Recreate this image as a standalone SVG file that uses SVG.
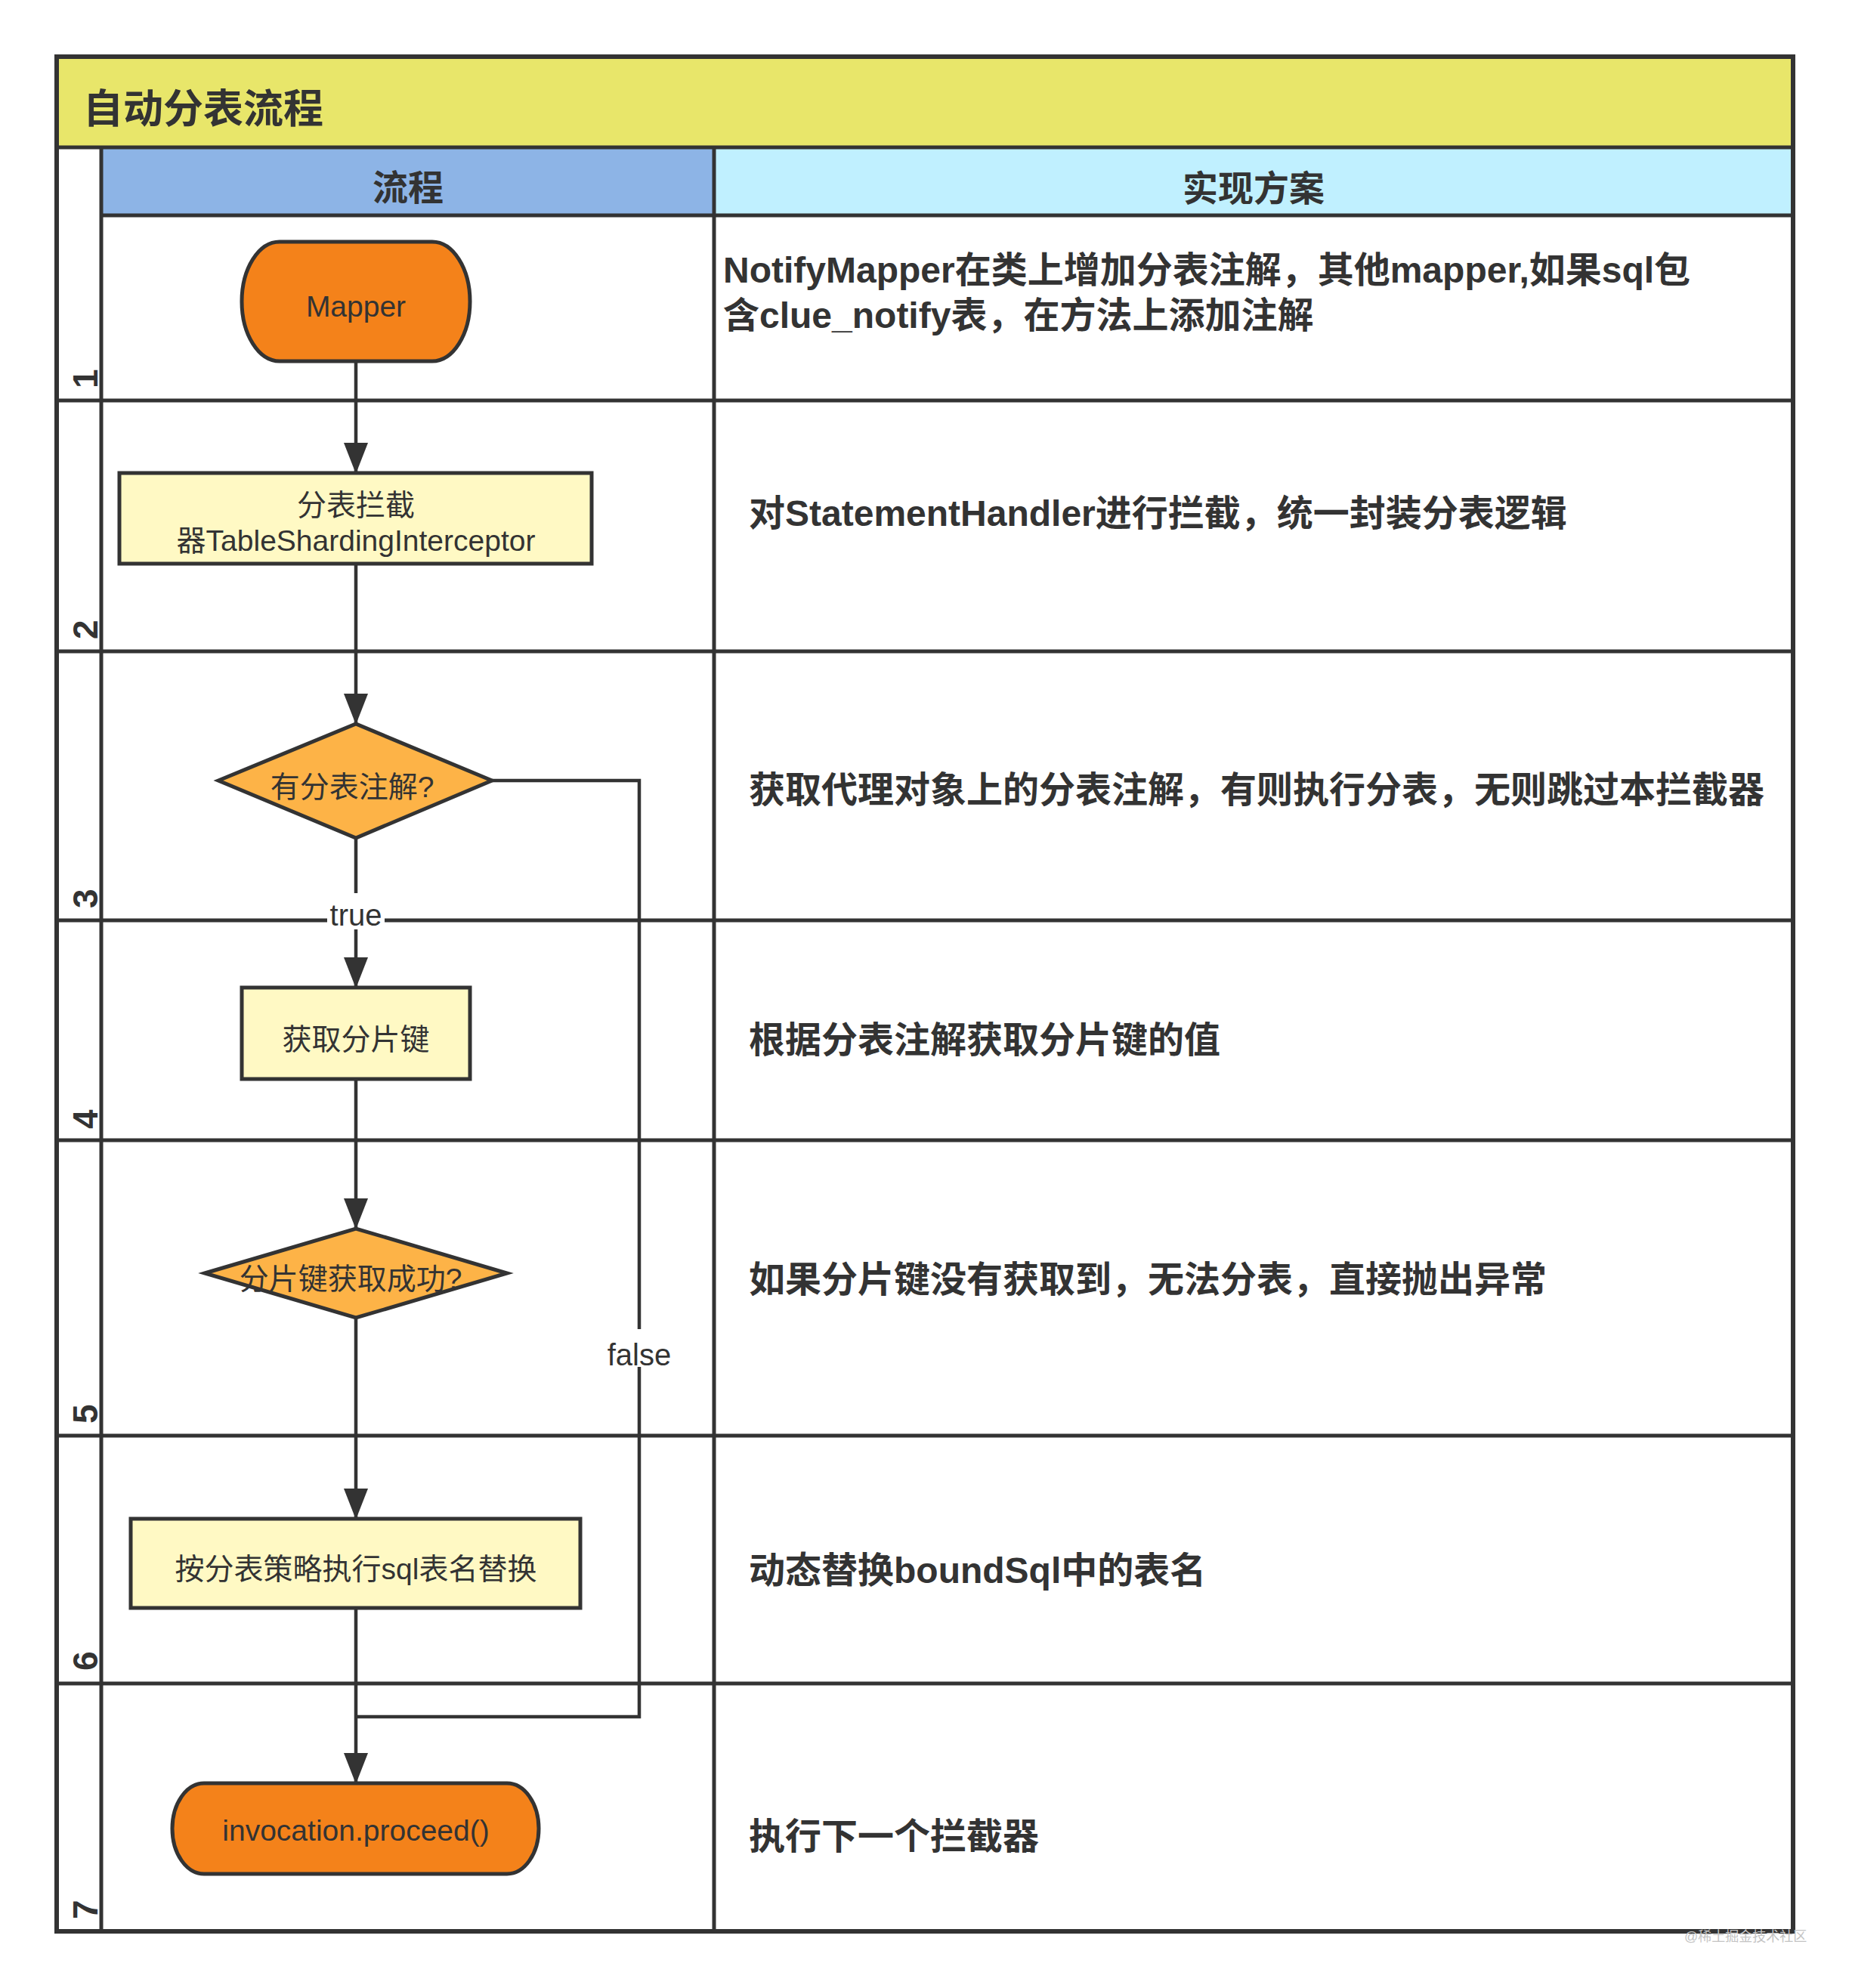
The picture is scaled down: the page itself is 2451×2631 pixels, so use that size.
<svg xmlns="http://www.w3.org/2000/svg" width="2451" height="2631" viewBox="0 0 2451 2631">
<defs>
<style>
.grid{stroke:#333333;stroke-width:5;fill:none}
.outer{stroke:#333333;stroke-width:6;fill:none}
.node{stroke:#333333;stroke-width:5}
.term{fill:#F4821A}
.proc{fill:#FFF9C4}
.dec{fill:#FDB347}
.ntext{font-family:"Liberation Sans","Noto Sans CJK SC",sans-serif;font-size:39px;fill:#333333;text-anchor:middle}
.desc{font-family:"Liberation Sans","Noto Sans CJK SC",sans-serif;font-size:48px;font-weight:bold;fill:#333333}
.hdr{font-family:"Liberation Sans","Noto Sans CJK SC",sans-serif;font-size:47px;font-weight:bold;fill:#333333;text-anchor:middle}
.lane{font-family:"Liberation Sans","Noto Sans CJK SC",sans-serif;font-size:46px;font-weight:bold;fill:#333333}
.elabel{font-family:"Liberation Sans","Noto Sans CJK SC",sans-serif;font-size:40px;fill:#333333;text-anchor:middle}
.conn{stroke:#333333;stroke-width:4.5;fill:none}
</style>
<marker id="arrow" markerUnits="userSpaceOnUse" markerWidth="42" markerHeight="32" refX="41" refY="16" orient="auto">
<path d="M0,0 L41,16 L0,32 Z" fill="#333333"/>
</marker>
</defs>
<rect x="0" y="0" width="2451" height="2631" fill="#FFFFFF"/>

<g id="table">
<rect x="75" y="75" width="2298" height="120" fill="#E8E66A"/>
<rect x="134" y="195" width="811" height="90" fill="#8DB4E6"/>
<rect x="945" y="195" width="1428" height="90" fill="#C0F0FF"/>
<line class="grid" x1="75" y1="195" x2="2373" y2="195"/>
<line class="grid" x1="134" y1="285" x2="2373" y2="285"/>
<line class="grid" x1="75" y1="530" x2="2373" y2="530"/>
<line class="grid" x1="75" y1="862" x2="2373" y2="862"/>
<line class="grid" x1="75" y1="1218" x2="2373" y2="1218"/>
<line class="grid" x1="75" y1="1509" x2="2373" y2="1509"/>
<line class="grid" x1="75" y1="1900" x2="2373" y2="1900"/>
<line class="grid" x1="75" y1="2228" x2="2373" y2="2228"/>
<line class="grid" x1="134" y1="195" x2="134" y2="2556"/>
<line class="grid" x1="945" y1="195" x2="945" y2="2556"/>
<rect class="outer" x="75" y="75" width="2298" height="2481"/>
<text x="110" y="163" font-family="Liberation Sans, Noto Sans CJK SC, sans-serif" font-size="53" font-weight="bold" fill="#333333">自动分表流程</text>
<text class="hdr" x="540" y="265">流程</text>
<text class="hdr" x="1659" y="266">实现方案</text>
<text class="lane" transform="translate(129,514) rotate(-90)">1</text>
<text class="lane" transform="translate(129,846) rotate(-90)">2</text>
<text class="lane" transform="translate(129,1202) rotate(-90)">3</text>
<text class="lane" transform="translate(129,1494) rotate(-90)">4</text>
<text class="lane" transform="translate(129,1884) rotate(-90)">5</text>
<text class="lane" transform="translate(129,2211) rotate(-90)">6</text>
<text class="lane" transform="translate(129,2540) rotate(-90)">7</text>
</g>

<g id="descriptions">
<text class="desc" x="957" y="374">NotifyMapper在类上增加分表注解，其他mapper,如果sql包</text>
<text class="desc" x="957" y="434">含clue_notify表，在方法上添加注解</text>
<text class="desc" x="991" y="696">对StatementHandler进行拦截，统一封装分表逻辑</text>
<text class="desc" x="991" y="1062">获取代理对象上的分表注解，有则执行分表，无则跳过本拦截器</text>
<text class="desc" x="991" y="1393">根据分表注解获取分片键的值</text>
<text class="desc" x="991" y="1710">如果分片键没有获取到，无法分表，直接抛出异常</text>
<text class="desc" x="991" y="2095">动态替换boundSql中的表名</text>
<text class="desc" x="991" y="2447">执行下一个拦截器</text>
</g>

<g id="connectors">
<line class="conn" x1="471" y1="478" x2="471" y2="627" marker-end="url(#arrow)"/>
<line class="conn" x1="471" y1="746" x2="471" y2="959" marker-end="url(#arrow)"/>
<line class="conn" x1="471" y1="1109" x2="471" y2="1308" marker-end="url(#arrow)"/>
<line class="conn" x1="471" y1="1428" x2="471" y2="1627" marker-end="url(#arrow)"/>
<line class="conn" x1="471" y1="1744" x2="471" y2="2011" marker-end="url(#arrow)"/>
<line class="conn" x1="471" y1="2128" x2="471" y2="2361" marker-end="url(#arrow)"/>
<polyline class="conn" points="651,1033 846,1033 846,2272 471,2272"/>
<g id="label-true">
<rect x="433" y="1182" width="76" height="48" fill="#FFFFFF"/>
<text class="elabel" x="471" y="1225">true</text>
</g>
<g id="label-false">
<rect x="801" y="1759" width="90" height="50" fill="#FFFFFF"/>
<text class="elabel" x="846" y="1807">false</text>
</g>
</g>

<g id="node-mapper">
<path class="node term" d="M370,320 H572 A50,79 0 0 1 572,478 H370 A50,79 0 0 1 370,320 Z"/>
<text class="ntext" x="471" y="419">Mapper</text>
</g>
<g id="node-interceptor">
<rect class="node proc" x="158" y="626" width="625" height="120"/>
<text class="ntext" x="471" y="682">分表拦截</text>
<text class="ntext" x="471" y="729">器TableShardingInterceptor</text>
</g>
<g id="node-has-annotation">
<polygon class="node dec" points="289,1033 471,958 651,1033 471,1109"/>
<text class="ntext" x="466" y="1055">有分表注解?</text>
</g>
<g id="node-get-key">
<rect class="node proc" x="320" y="1307" width="302" height="121"/>
<text class="ntext" x="471" y="1389">获取分片键</text>
</g>
<g id="node-key-success">
<polygon class="node dec" points="271,1685 471,1626 671,1685 471,1744"/>
<text class="ntext" x="464" y="1706">分片键获取成功?</text>
</g>
<g id="node-replace">
<rect class="node proc" x="173" y="2010" width="595" height="118"/>
<text class="ntext" x="471" y="2090">按分表策略执行sql表名替换</text>
</g>
<g id="node-proceed">
<path class="node term" d="M270,2360 H671 A42,60 0 0 1 671,2480 H270 A42,60 0 0 1 270,2360 Z"/>
<text class="ntext" x="471" y="2436">invocation.proceed()</text>
</g>

<text x="2229" y="2569" font-family="Liberation Sans, Noto Sans CJK SC, sans-serif" font-size="18" fill="#C4C4C4">@稀土掘金技术社区</text>
</svg>
